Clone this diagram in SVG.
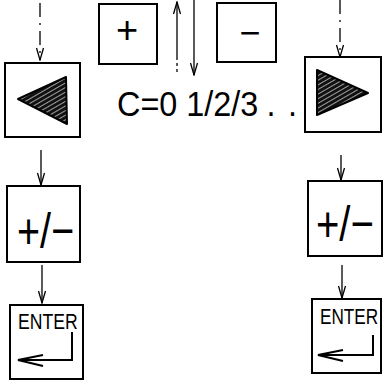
<svg xmlns="http://www.w3.org/2000/svg" width="383" height="383" viewBox="0 0 383 383">
<style>
.box{fill:#fff;stroke:#000;stroke-width:2}
.lbl{font-family:"Liberation Sans",Arial,sans-serif;fill:#000}
.wire{fill:none;stroke:#000;stroke-width:1.3}
.dash{stroke-dasharray:14 6 2 6}
.ret{fill:none;stroke:#000;stroke-width:2}
.tri{fill:url(#hatch);stroke:#000;stroke-width:2;stroke-linejoin:round}
</style>
<defs>
  <!-- dark diagonal hatching for the arrow keys -->
  <pattern id="hatch" width="4" height="4" patternUnits="userSpaceOnUse" patternTransform="rotate(60)">
    <rect width="4" height="4" fill="#111"/>
    <line x1="0" y1="0" x2="0" y2="4" stroke="#fff" stroke-width="1.2"/>
  </pattern>
  <!-- open chevron arrowhead -->
  <marker id="chev" viewBox="-13 -5 14 10" refX="0" refY="0" markerWidth="14" markerHeight="10" markerUnits="userSpaceOnUse" orient="auto">
    <path d="M-12,-3.5 L0,0 L-12,3.5" fill="none" stroke="#000" stroke-width="1.3"/>
  </marker>
</defs>

<g id="connectors">
  <line class="wire dash" x1="40" y1="3" x2="40" y2="60" marker-end="url(#chev)"/>
  <line class="wire" x1="41" y1="150" x2="41" y2="185" marker-end="url(#chev)"/>
  <line class="wire" x1="42" y1="265" x2="42" y2="303" marker-end="url(#chev)"/>
  <line class="wire dash" x1="340" y1="0" x2="340" y2="57" marker-end="url(#chev)"/>
  <line class="wire" x1="341" y1="155" x2="341" y2="180" marker-end="url(#chev)"/>
  <line class="wire" x1="342" y1="265" x2="342" y2="298" marker-end="url(#chev)"/>
  <!-- up / down between the + and - keys -->
  <line class="wire" x1="177" y1="60" x2="177" y2="2" marker-end="url(#chev)"/>
  <line class="wire" x1="177" y1="63" x2="177" y2="66"/>
  <line class="wire" x1="177" y1="69" x2="177" y2="72"/>
  <line class="wire" x1="194" y1="0" x2="194" y2="75" marker-end="url(#chev)"/>
</g>

<g id="key-plus">
  <rect class="box" x="99" y="4" width="58" height="60"/>
  <text class="lbl" x="127" y="43" font-size="38" text-anchor="middle">+</text>
</g>
<g id="key-minus">
  <rect class="box" x="217" y="3" width="59" height="59"/>
  <text class="lbl" x="250" y="45" font-size="36" text-anchor="middle">−</text>
</g>

<g id="channel-label">
  <text class="lbl" font-size="36" transform="translate(117,116) scale(0.9,1)">C=0 1/2/3<tspan x="166">.</tspan><tspan x="190">.</tspan></text>
</g>

<g id="key-left">
  <rect class="box" x="5" y="63" width="75" height="74"/>
  <polygon class="tri" points="18,99 66,77 67,124"/>
</g>
<g id="key-right">
  <rect class="box" x="305" y="57" width="76" height="75"/>
  <polygon class="tri" points="317,70 368,93 317,115"/>
</g>

<g id="sign-left">
  <rect class="box" x="7" y="186" width="73" height="76"/>
  <text class="lbl" font-size="50" transform="translate(17,248) scale(0.79,1)">+/−</text>
</g>
<g id="sign-right">
  <rect class="box" x="308" y="181" width="74" height="75"/>
  <text class="lbl" font-size="50" transform="translate(316,241) scale(0.8,1)">+/−</text>
</g>

<g id="enter-left">
  <rect class="box" x="10" y="305" width="73" height="74"/>
  <text class="lbl" font-size="22" transform="translate(18,329) scale(0.8,1)">ENTER</text>
  <path class="ret" d="M72,332 V360 H18 M43,355 L18,360 L43,366"/>
</g>
<g id="enter-right">
  <rect class="box" x="312" y="299" width="69" height="74"/>
  <text class="lbl" font-size="22" transform="translate(320,324) scale(0.78,1)">ENTER</text>
  <path class="ret" d="M373,335 V355 H318 M343,350 L318,355 L343,361"/>
</g>
</svg>
